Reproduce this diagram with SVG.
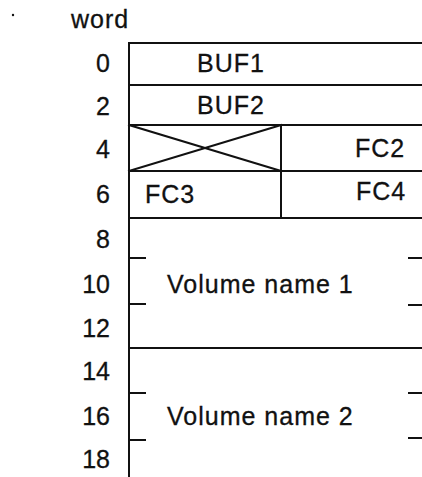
<svg xmlns="http://www.w3.org/2000/svg" width="422" height="477" viewBox="0 0 422 477">
<style>
text{font-family:"Liberation Sans",Arial,sans-serif;font-size:25px;fill:#111;stroke:#111;stroke-width:0.3px}
.n{text-anchor:end}
.l{letter-spacing:1px}
line{stroke:#111;stroke-width:2;stroke-linecap:square}
</style>
<rect width="422" height="477" fill="#fff"/>
<circle cx="13" cy="15" r="1.2" fill="#111"/>
<g id="axis">
<text x="71" y="28" class="l">word</text>
<text class="n" x="110" y="72">0</text>
<text class="n" x="110" y="115">2</text>
<text class="n" x="110" y="158">4</text>
<text class="n" x="110" y="203">6</text>
<text class="n" x="110" y="248">8</text>
<text class="n" x="110" y="293">10</text>
<text class="n" x="110" y="337">12</text>
<text class="n" x="110" y="380">14</text>
<text class="n" x="110" y="425">16</text>
<text class="n" x="110" y="468">18</text>
</g>
<g id="frame">
<line x1="129" y1="43" x2="129" y2="477"/>
<line x1="129" y1="43" x2="422" y2="43"/>
<line x1="129" y1="85" x2="422" y2="85"/>
<line x1="129" y1="125" x2="422" y2="125"/>
<line x1="129" y1="171" x2="422" y2="171"/>
<line x1="129" y1="218" x2="422" y2="218"/>
<line x1="129" y1="348" x2="422" y2="348"/>
<line x1="281" y1="125" x2="281" y2="218"/>
</g>
<g id="buf1"><text x="197" y="72" class="l">BUF1</text></g>
<g id="buf2"><text x="197" y="114" class="l">BUF2</text></g>
<g id="unused">
<line x1="129" y1="125" x2="281" y2="171"/>
<line x1="129" y1="171" x2="281" y2="125"/>
</g>
<g id="fc2"><text x="355" y="157" class="l">FC2</text></g>
<g id="fc3"><text x="145" y="203" class="l">FC3</text></g>
<g id="fc4"><text x="356" y="200" class="l">FC4</text></g>
<g id="vol1">
<line x1="129" y1="258" x2="145" y2="258"/>
<line x1="129" y1="304" x2="145" y2="304"/>
<line x1="409" y1="258" x2="422" y2="258"/>
<line x1="409" y1="305" x2="422" y2="305"/>
<text x="167" y="293" class="l">Volume name 1</text>
</g>
<g id="vol2">
<line x1="129" y1="393" x2="145" y2="393"/>
<line x1="129" y1="440" x2="145" y2="440"/>
<line x1="409" y1="393" x2="422" y2="393"/>
<line x1="409" y1="438" x2="422" y2="438"/>
<text x="167" y="425" class="l">Volume name 2</text>
</g>
</svg>
